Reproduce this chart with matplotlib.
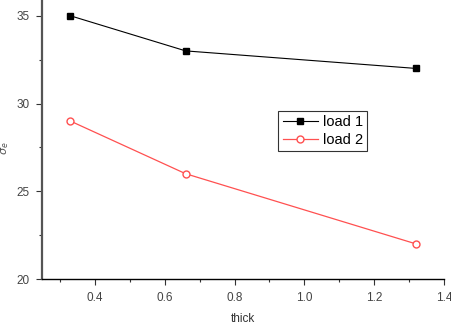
import matplotlib
matplotlib.use("Agg")
import matplotlib.pyplot as plt
from matplotlib.ticker import MultipleLocator

plt.rcParams['font.family'] = ['Liberation Sans', 'DejaVu Sans']
plt.rcParams['font.size'] = 8.5

thick = [0.33, 0.66, 1.32]
load1 = [35, 33, 32]
load2 = [29, 26, 22]

fig = plt.figure(figsize=(4.51, 3.30), dpi=100)
ax = fig.add_axes([0.0942, 0.1545, 0.8903, 0.8455])

ax.plot(thick, load1, color='black', lw=0.8, marker='s', ms=5, label='load 1')
ax.plot(thick, load2, color='#ff5050', lw=0.9, marker='o', ms=5,
        mfc='white', mec='#ff5050', label='load 2')

ax.set_xlim(0.25, 1.4)
ax.set_ylim(20, 35.9)
ax.xaxis.set_major_locator(MultipleLocator(0.2))
ax.xaxis.set_minor_locator(MultipleLocator(0.1))
ax.yaxis.set_major_locator(MultipleLocator(5))
ax.yaxis.set_minor_locator(MultipleLocator(2.5))
ax.set_xticks([0.4, 0.6, 0.8, 1.0, 1.2, 1.4])
ax.set_xticklabels(['0.4', '0.6', '0.8', '1.0', '1.2', '1.4'])

ax.spines['top'].set_visible(False)
ax.spines['right'].set_visible(False)
ax.spines['left'].set_linewidth(1.6)
ax.spines['left'].set_color('#555555')
ax.spines['bottom'].set_linewidth(1.0)
ax.tick_params(which='major', direction='out', length=4, width=0.8, colors='#333333', labelcolor='#444444', pad=5)
ax.tick_params(which='minor', direction='out', length=2.5, width=0.8, colors='#333333')

ax.set_xlabel('thick', color='#333333', labelpad=7)
ax.set_ylabel(r'$\sigma_e$', color='#555555', fontsize=8)
ax.yaxis.set_label_coords(-0.078, 0.47)

leg = ax.legend(loc='upper left', bbox_to_anchor=(0.587, 0.602), frameon=True, fancybox=False,
                edgecolor='black', handlelength=2.4, borderpad=0.3, labelspacing=0.25,
                handletextpad=0.35, borderaxespad=0, fontsize=10.5)
leg.get_frame().set_linewidth(0.8)

fig.savefig('out.png', dpi=100)
